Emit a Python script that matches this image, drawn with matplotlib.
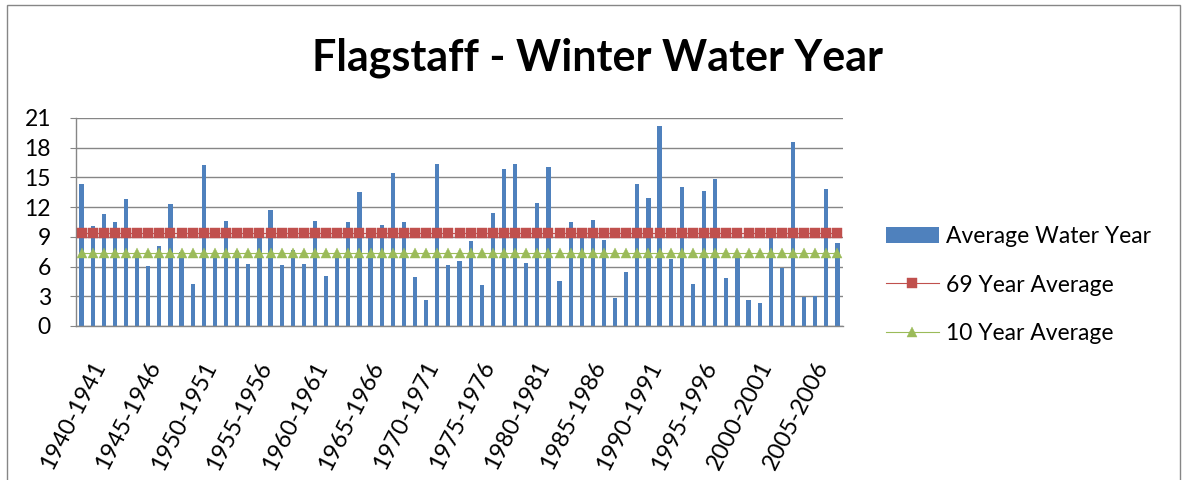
import numpy as np
import matplotlib.pyplot as plt
from matplotlib.patches import Rectangle
from matplotlib.transforms import ScaledTranslation

# Winter precipitation per water year, 1940-1941 .. 2008-2009
water_year = [
    14.3, 10.1, 11.3, 10.5, 12.8, 7.4, 6.1, 8.1, 12.3, 7.5,
    4.2, 16.3, 7.3, 10.6, 7.6, 6.3, 9.8, 11.7, 6.2, 7.7,
    6.3, 10.6, 5.05, 7.3, 10.5, 13.5, 9.3, 10.2, 15.4, 10.5,
    4.9, 2.6, 16.4, 6.2, 6.6, 8.6, 4.1, 11.4, 15.9, 16.35,
    6.4, 12.4, 16.05, 4.5, 10.5, 9.3, 10.7, 8.7, 2.8, 5.5,
    14.3, 12.9, 20.2, 6.8, 14.0, 4.2, 13.6, 14.85, 4.8, 7.4,
    2.6, 2.3, 9.3, 5.9, 18.6, 2.9, 3.0, 13.8, 8.35,
]
avg_69_year = 9.35
avg_10_year = 7.4

tick_labels = [
    "1940-1941", "1945-1946", "1950-1951", "1955-1956", "1960-1961",
    "1965-1966", "1970-1971", "1975-1976", "1980-1981", "1985-1986",
    "1990-1991", "1995-1996", "2000-2001", "2005-2006",
]
y_ticks = [0, 3, 6, 9, 12, 15, 18, 21]

plt.rcParams['font.family'] = ['Lato', 'DejaVu Sans']

blue = '#4F81BD'
red = '#C0504D'
green = '#9BBB59'
grey = '#868686'

fig = plt.figure(figsize=(11.85, 4.8), dpi=100)
ax = fig.add_axes([76 / 1185, 1 - 326 / 480, (843 - 76) / 1185, (326 - 118) / 480])

x = np.arange(len(water_year))
bars = ax.bar(x, water_year, width=0.38, color=blue, zorder=2, label='Average Water Year')
line69, = ax.plot(x, [avg_69_year] * len(x), color=red, lw=0.8, marker='s', markersize=6.9,
                  markeredgewidth=0.3, markeredgecolor=red, zorder=3, label='69 Year Average')
line10, = ax.plot(x, [avg_10_year] * len(x), color=green, lw=0.8, marker='^', markersize=7.8,
                  markeredgewidth=0.3, markeredgecolor=green, zorder=3, label='10 Year Average')

ax.set_xlim(-0.5, len(x) - 0.5)
ax.set_ylim(0, 21)
ax.set_yticks(y_ticks)
ax.grid(axis='y', color=grey, lw=1.0, zorder=0)
ax.tick_params(axis='y', length=4, color=grey, pad=14, labelsize=16.5)
ax.set_xticks(x[::5])
ax.set_xticklabels(tick_labels, rotation=63, ha='right', va='top',
                   rotation_mode='anchor', fontsize=17)
ax.tick_params(axis='x', length=0, pad=23)
shift = ScaledTranslation(9 / 100, 0, fig.dpi_scale_trans)
for lab in ax.get_xticklabels():
    lab.set_transform(lab.get_transform() + shift)

for side in ['top', 'right']:
    ax.spines[side].set_visible(False)
for side in ['left', 'bottom']:
    ax.spines[side].set_color(grey)
    ax.spines[side].set_linewidth(1.0)

fig.text(598 / 1185, 1 - 58 / 480, 'Flagstaff - Winter Water Year', ha='center',
         va='center', fontsize=31, fontweight='bold')

ax.legend([bars, line69, line10], ['Average Water Year', '69 Year Average', '10 Year Average'],
          loc='center left', bbox_to_anchor=(886 / 1185, 1 - 285 / 480),
          bbox_transform=fig.transFigure, frameon=False, fontsize=16.5,
          handlelength=2.3, handletextpad=0.3, labelspacing=1.19,
          borderaxespad=0, borderpad=0)

# chart area border
fig.patches.append(Rectangle((7 / 1185, -0.1), (1180 - 7) / 1185, 1.1 - 5 / 480,
                             transform=fig.transFigure, fill=False,
                             edgecolor=grey, lw=1.0))

fig.savefig('out.png', dpi=100)
